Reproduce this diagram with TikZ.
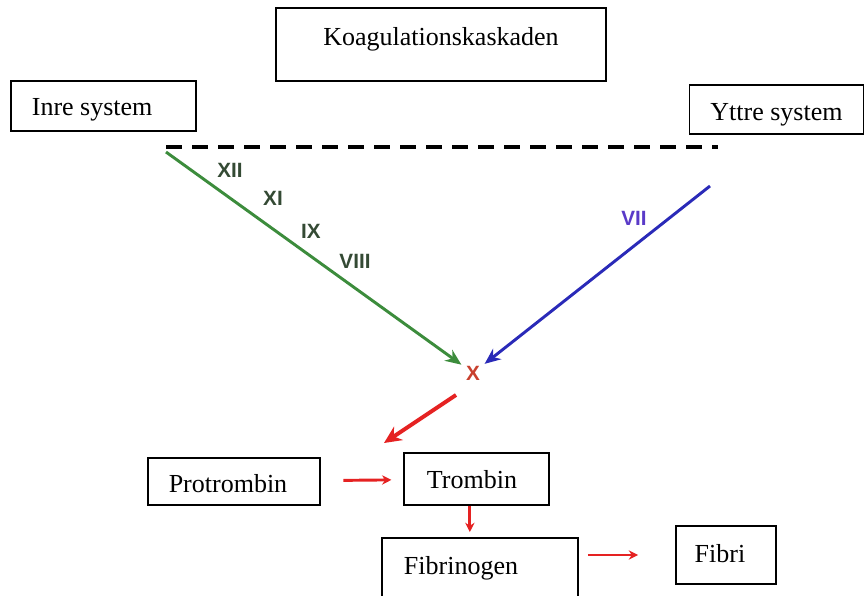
\documentclass[tikz,border=0pt]{standalone}
\usepackage{fontspec}
\setmainfont{Liberation Serif}
\newfontfamily\romfont{Liberation Sans}
\usetikzlibrary{arrows.meta}
\definecolor{pathgreen}{HTML}{3C8C3C}
\definecolor{factgreen}{HTML}{344A34}
\definecolor{pathblue}{HTML}{2A2AB8}
\definecolor{factblue}{HTML}{5A3AC8}
\definecolor{stepred}{HTML}{E52222}
\definecolor{factred}{HTML}{C8402E}
\tikzset{
  box/.style={draw, line width=0.9pt, inner sep=0pt, text height=13.5pt, text depth=0pt,
    font=\fontsize{19.5}{22}\selectfont},
  fact/.style={font=\romfont\bfseries\fontsize{15.5}{17}\selectfont},
  flow/.style={-{Stealth[length=12pt,width=10pt]}, line width=2.2pt},
  smallflow/.style={-{Stealth[length=7pt,width=7pt]}, line width=2.2pt, stepred},
}
\begin{document}
\begin{tikzpicture}[x=0.75pt, y=-0.75pt]
\useasboundingbox (0,0) rectangle (864,596);
% boxes
\node[box, text depth=12.7pt, minimum width=247.5pt, minimum height=54.75pt] (koag) at (441,44.5) {Koagulationskaskaden};
\node[box, minimum width=138.75pt, minimum height=37.5pt] (inre) at (103.5,106) {Inre system\kern17pt};
\node[box, text height=15.8pt, minimum width=130.5pt, minimum height=36.75pt] (yttre) at (776.5,109.5) {Yttre system};
\node[box, text height=17.2pt, minimum width=129pt, minimum height=35.25pt] (protrombin) at (234,481.5) {Protrombin\kern9pt};
\node[box, minimum width=108.75pt, minimum height=39pt] (trombin) at (476.5,479) {Trombin\kern6.75pt};
\node[box, text depth=6pt, minimum width=147pt, minimum height=46.5pt] (fibrinogen) at (480,569) {Fibrinogen\kern28.5pt};
\node[box, text depth=3pt, minimum width=75pt, minimum height=43.5pt] (fibri) at (726,555) {Fibri\kern9pt};
% dashed line
\coordinate (dashL) at (166,147);
\coordinate (dashR) at (718,147);
\draw[line width=3pt, dash pattern=on 12pt off 7.5pt] (dashL) -- (dashR);
% intrinsic and extrinsic paths
\node[fact, text=factred] (x) at (473,373) {X};
\coordinate (inreStart) at (166,152);
\coordinate (yttreStart) at (710,186);
\draw[flow, pathgreen] (inreStart) -- (x);
\draw[flow, pathblue] (yttreStart) -- (x);
\node[fact, text=factgreen] (xii) at (230,170) {XII};
\node[fact, text=factgreen] (xi) at (273,198) {XI};
\node[fact, text=factgreen] (ix) at (311,231) {IX};
\node[fact, text=factgreen] (viii) at (355,261) {VIII};
\node[fact, text=factblue] (vii) at (634,218) {VII};
% common path
\coordinate (xEnd) at (384,443);
\draw[-{Stealth[length=13pt,width=12pt]}, line width=3pt, stepred]
  ([xshift=-12.75pt,yshift=-16.5pt]x.center) -- (xEnd);
\draw[smallflow, shorten <=17pt, shorten >=9pt] (protrombin) -- (trombin);
\draw[smallflow, shorten >=4pt] ([xshift=-5pt]trombin.south) -- ([xshift=-5pt]trombin.south |- fibrinogen.north);
\draw[smallflow, shorten <=7pt, shorten >=28pt] (fibrinogen.east |- fibri) -- (fibri);
\end{tikzpicture}
\end{document}
